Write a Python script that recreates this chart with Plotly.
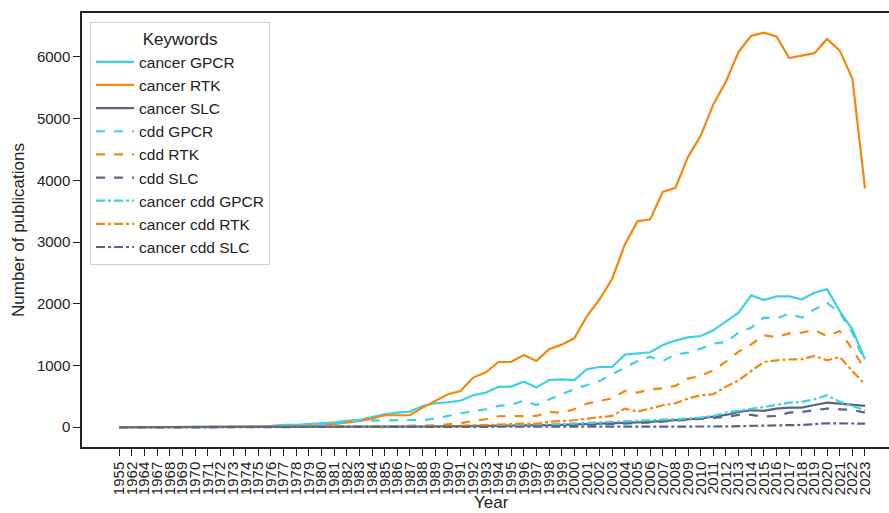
import plotly.graph_objects as go

years = [1955, 1962, 1964, 1967] + list(range(1968, 2024))
year_labels = [str(y) for y in years]

# values per year (1955,1962,1964,1967,1968..2023)
cancer_gpcr = [0, 0, 0, 0, 0, 0, 0, 1, 1, 2, 5, 10,
               21, 38, 38, 49, 60, 80, 105, 118, 165, 210, 237, 254, 345, 388, 405, 430, 518, 561,
               655, 658, 737, 642, 766, 777, 765, 939, 976, 976, 1176, 1192, 1214, 1332, 1403, 1456,
               1478, 1570, 1720, 1856, 2136, 2060, 2120, 2120, 2071, 2179, 2238, 1882, 1586, 1100]
cancer_rtk = [0, 0, 0, 0, 0, 0, 1, 1, 2, 2, 3, 5,
              8, 12, 15, 20, 30, 49, 75, 102, 140, 194, 194, 194, 318, 426, 534, 588, 804, 890,
              1057, 1057, 1170, 1073, 1262, 1338, 1440, 1801, 2071, 2406, 2961, 3338, 3366, 3813, 3878, 4380,
              4720, 5230, 5600, 6080, 6340, 6390, 6330, 5980, 6020, 6060, 6290, 6100, 5650, 3870]
cancer_slc = [0, 0, 0, 0, 0, 0, 0, 0, 0, 0, 0, 0,
              0, 1, 1, 1, 2, 3, 4, 5, 6, 8, 9, 10, 12, 14, 15, 17, 19, 21,
              23, 25, 28, 30, 34, 40, 45, 50, 55, 60, 68, 78, 88, 100, 112, 128,
              145, 173, 199, 248, 275, 264, 302, 318, 318, 361, 399, 383, 361, 345]
cdd_gpcr = [0, 0, 0, 0, 0, 0, 0, 0, 0, 0, 1, 2,
            5, 10, 15, 25, 40, 60, 85, 102, 108, 113, 115, 118, 113, 140, 183, 227, 264, 291,
            345, 365, 430, 361, 453, 534, 615, 685, 750, 858, 966, 1073, 1138, 1073, 1181, 1208,
            1273, 1354, 1381, 1532, 1613, 1775, 1764, 1840, 1775, 1909, 2017, 1856, 1532, 1047]
cdd_rtk = [0, 0, 0, 0, 0, 0, 0, 0, 0, 0, 0, 0,
           0, 1, 1, 2, 3, 5, 8, 10, 12, 15, 18, 22, 28, 32, 48, 65, 102, 129,
           178, 183, 183, 183, 250, 235, 291, 383, 426, 469, 588, 561, 615, 631, 669, 788,
           831, 922, 1063, 1225, 1343, 1489, 1462, 1521, 1532, 1575, 1478, 1559, 1262, 939]
cdd_slc = [0, 0, 0, 0, 0, 0, 0, 0, 0, 0, 0, 0,
           0, 0, 0, 1, 1, 2, 2, 3, 3, 4, 5, 6, 7, 8, 10, 11, 13, 15,
           17, 19, 21, 23, 26, 30, 35, 40, 45, 50, 58, 68, 78, 90, 102, 115,
           130, 150, 170, 199, 199, 173, 183, 237, 248, 275, 302, 291, 280, 237]
cancer_cdd_gpcr = [0, 0, 0, 0, 0, 0, 0, 0, 0, 0, 0, 0,
                   0, 0, 1, 1, 2, 3, 3, 4, 4, 5, 7, 9, 11, 13, 15, 18, 22, 25,
                   30, 33, 40, 38, 45, 52, 60, 68, 75, 82, 95, 100, 108, 118, 128, 140,
                   158, 183, 237, 264, 291, 329, 361, 399, 410, 453, 518, 415, 345, 275]
cancer_cdd_rtk = [0, 0, 0, 0, 0, 0, 0, 0, 0, 0, 0, 0,
                  0, 0, 0, 1, 1, 2, 2, 3, 3, 3, 5, 7, 9, 12, 15, 20, 28, 35,
                  45, 50, 60, 55, 90, 102, 113, 140, 157, 183, 302, 254, 302, 356, 388, 464,
                  518, 534, 658, 760, 911, 1057, 1084, 1100, 1100, 1154, 1084, 1138, 911, 696]
cancer_cdd_slc = [0, 0, 0, 0, 0, 0, 0, 0, 0, 0, 0, 0,
                  0, 0, 0, 0, 0, 0, 0, 0, 0, 0, 0, 0, 0, 1, 1, 1, 1, 1,
                  1, 2, 2, 2, 2, 3, 3, 3, 4, 4, 5, 6, 6, 7, 8, 9,
                  10, 12, 14, 17, 20, 25, 28, 32, 38, 50, 65, 62, 62, 59]

series_names = ["cancer GPCR", "cancer RTK", "cancer SLC",
                "cdd GPCR", "cdd RTK", "cdd SLC",
                "cancer cdd GPCR", "cancer cdd RTK", "cancer cdd SLC"]
series_values = [cancer_gpcr, cancer_rtk, cancer_slc,
                 cdd_gpcr, cdd_rtk, cdd_slc,
                 cancer_cdd_gpcr, cancer_cdd_rtk, cancer_cdd_slc]

CYAN = "#3fd0e4"
ORANGE = "#f5870c"
SLATE = "#5a6585"
colors = [CYAN, ORANGE, SLATE] * 3
dashes = ["solid"] * 3 + ["dash"] * 3 + ["dashdot"] * 3

FONT = "Liberation Sans, Arial, sans-serif"

fig = go.Figure()
for name, vals, c, d in zip(series_names, series_values, colors, dashes):
    fig.add_trace(go.Scatter(
        x=year_labels, y=vals, mode="lines", name=name,
        line=dict(color=c, width=2.2, dash=d),
    ))

fig.update_layout(
    width=889, height=513,
    margin=dict(l=82, r=0, t=13, b=66),
    paper_bgcolor="white", plot_bgcolor="white",
    font=dict(family=FONT, size=15, color="#222222"),
    showlegend=True,
    legend=dict(
        title=dict(text="Keywords", side="top center", font=dict(size=17)),
        x=0.01, y=0.979, xanchor="left", yanchor="top",
        bgcolor="rgba(255,255,255,0.85)", bordercolor="#d0d0d0", borderwidth=1,
        font=dict(size=15.5), tracegroupgap=0, itemwidth=38,
    ),
    annotations=[dict(text="Year", xref="paper", yref="paper", x=0.508, y=-0.127,
                      xanchor="center", yanchor="middle", showarrow=False,
                      font=dict(size=17, family=FONT, color="#222222"))],
)

fig.update_xaxes(
    type="category", categoryorder="array", categoryarray=year_labels,
    range=[-2.95, 60.9], automargin=False,
    tickmode="array", tickvals=year_labels, ticktext=year_labels,
    tickangle=-90, tickfont=dict(size=15),
    ticks="outside", ticklen=7, tickwidth=1.2, tickcolor="#222222",
    showline=True, linecolor="#222222", linewidth=1.5, mirror=True,
    showgrid=False, zeroline=False,
)
fig.update_yaxes(
    range=[-320, 6710], automargin=False,
    tickmode="array", tickvals=[0, 1000, 2000, 3000, 4000, 5000, 6000],
    tickfont=dict(size=15),
    ticks="outside", ticklen=7, tickwidth=1.2, tickcolor="#222222",
    showline=True, linecolor="#222222", linewidth=1.5, mirror=False,
    showgrid=False, zeroline=False,
    title=dict(text="Number of publications", font=dict(size=17), standoff=8),
)

fig.write_html("out.html", config={"displayModeBar": False},
               post_script="document.body.style.margin='0';document.body.style.overflow='hidden';")
